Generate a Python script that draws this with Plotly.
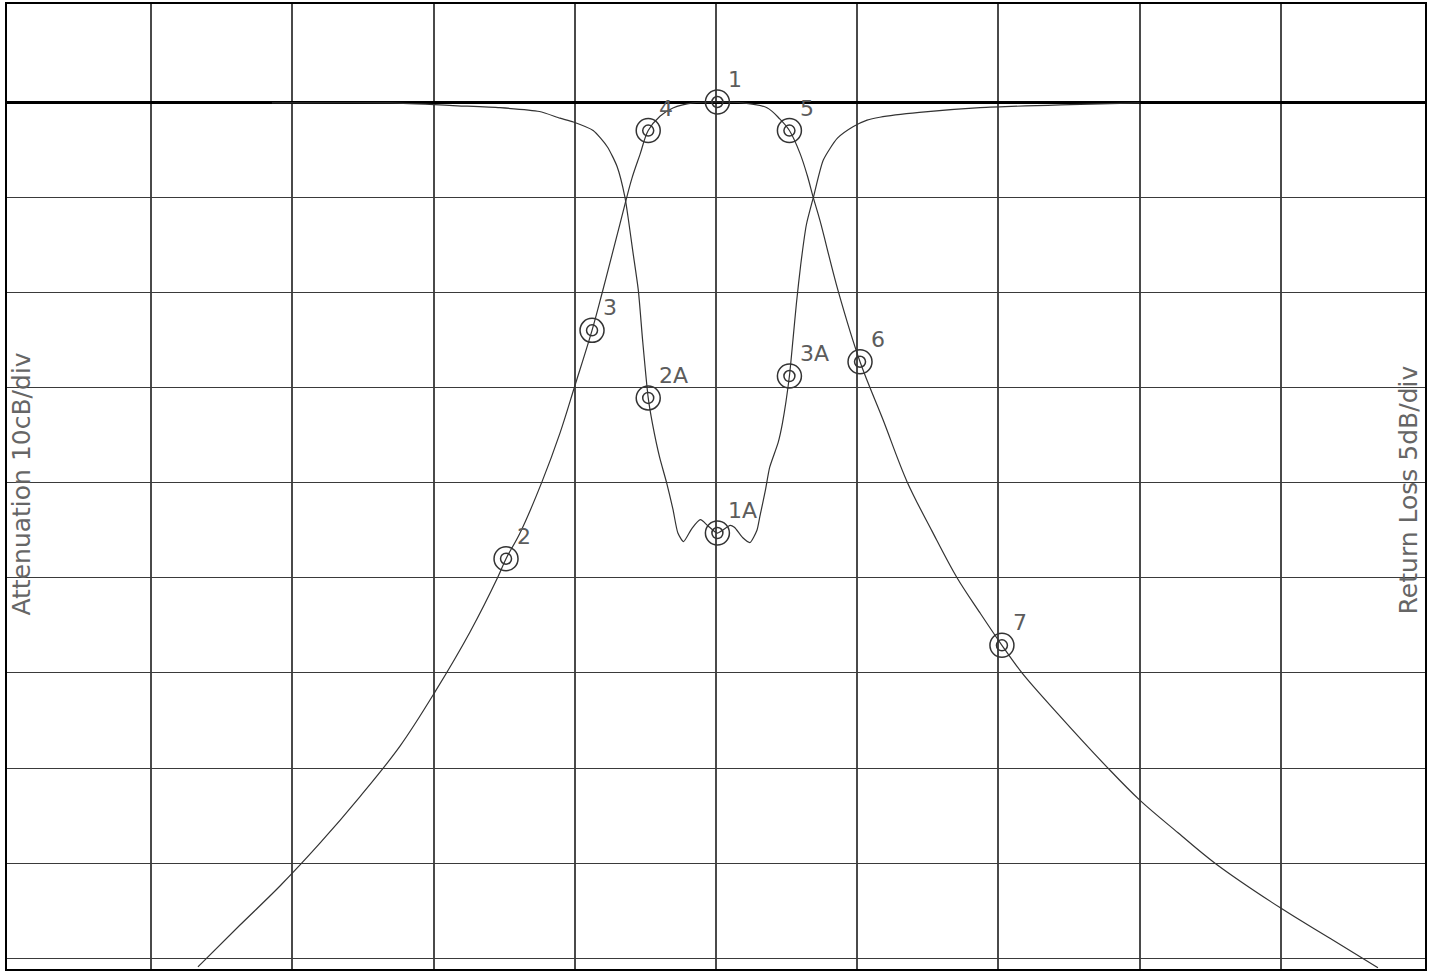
import plotly.graph_objects as go

# x in graticule divisions (0..10), centre of the passband at 5
# attenuation trace: 10 dB/div, return loss trace: 5 dB/div, both referenced to the heavy line

att_x = [1.331, 1.629, 1.912, 2.195, 2.479, 2.762, 3.010, 3.258, 3.456, 3.513, 3.612, 3.768,
         3.895, 4.001, 4.122, 4.193, 4.263, 4.320, 4.363, 4.405, 4.462, 4.52, 4.603, 4.695,
         4.837, 5.01,
         5.191, 5.361, 5.453, 5.52, 5.595, 5.646, 5.688, 5.737, 5.864, 6.02, 6.183, 6.353,
         6.530, 6.707, 6.870, 7.025, 7.167, 7.415, 7.769, 8.003, 8.272, 8.534, 9.008, 9.348, 9.688]
att_db = [-90.9, -86.5, -82.4, -77.9, -73.0, -67.7, -62.0, -55.7, -49.9, -48.0, -45.3, -39.9,
          -34.8, -29.8, -24.0, -20.1, -16.1, -12.8, -10.3, -8.0, -5.5, -3.0, -1.5, -0.63,
          -0.1, 0.0,
          -0.1, -0.6, -1.8, -3.0, -5.4, -7.7, -10.0, -12.5, -19.8, -27.3, -33.4, -39.9,
          -45.1, -50.0, -53.7, -57.1, -60.0, -64.2, -69.9, -73.4, -76.8, -80.0, -84.8, -87.9, -91.0]

rl_x = [1.855, 2.69, 3.17, 3.47, 3.75, 3.895, 3.99, 4.13, 4.23, 4.30, 4.355, 4.38, 4.41, 4.45,
        4.48, 4.52, 4.55, 4.60, 4.65, 4.695, 4.73, 4.77, 4.83, 4.89, 4.94, 5.01, 5.10, 5.13,
        5.19, 5.24, 5.29, 5.31, 5.35, 5.38, 5.44, 5.47, 5.52, 5.545, 5.57, 5.60, 5.64, 5.69,
        5.76, 5.86, 5.97, 6.07, 6.16, 6.44, 6.87, 7.44, 8.00]
rl_db = [-0.05, -0.05, -0.2, -0.3, -0.5, -0.85, -1.05, -1.5, -2.35, -3.4, -5.0, -6.2, -7.8, -9.9,
         -12.5, -15.55, -16.9, -18.65, -20.0, -21.4, -22.65, -23.1, -22.4, -21.95, -22.25, -22.65,
         -22.25, -22.35, -22.9, -23.15, -22.5, -21.8, -20.4, -19.2, -17.9, -16.9, -14.4, -12.5,
         -10.55, -8.55, -6.45, -5.0, -3.05, -1.9, -1.3, -0.95, -0.8, -0.55, -0.3, -0.15, -0.05]

att_mk_x = [5.01, 4.52, 5.52, 4.122, 3.513, 6.02, 7.025]
att_mk_db = [0.0, -3.0, -3.0, -24.0, -48.0, -27.3, -57.1]
att_mk_lbl = ["1", "4", "5", "3", "2", "6", "7"]

rl_mk_x = [4.52, 5.01, 5.52]
rl_mk_db = [-15.55, -22.65, -14.4]
rl_mk_lbl = ["2A", "1A", "3A"]

grid_x = [1, 2, 3, 4, 5, 6, 7, 8, 9]
grid_db = [-90, -80, -70, -60, -50, -40, -30, -20, -10, 0]

INK = "#333333"

fig = go.Figure()

fig.add_trace(go.Scatter(x=att_x, y=att_db, mode="lines", yaxis="y",
                         line=dict(color=INK, width=1.2, shape="spline", smoothing=1.0)))
fig.add_trace(go.Scatter(x=rl_x, y=rl_db, mode="lines", yaxis="y2",
                         line=dict(color=INK, width=1.2, shape="spline", smoothing=0.6)))

# double-ring markers
for mx, my, ax in [(att_mk_x, att_mk_db, "y"), (rl_mk_x, rl_mk_db, "y2")]:
    for size in (24, 11):
        fig.add_trace(go.Scatter(
            x=mx, y=my, mode="markers", yaxis=ax,
            marker=dict(symbol="circle-open", size=size, color=INK, line=dict(width=1.5, color=INK)),
        ))

annotations = []
for mx, my, lbl, ref in [(att_mk_x, att_mk_db, att_mk_lbl, "y"), (rl_mk_x, rl_mk_db, rl_mk_lbl, "y2")]:
    for x, y, t in zip(mx, my, lbl):
        annotations.append(dict(x=x, y=y, xref="x", yref=ref, text=t, showarrow=False,
                                xanchor="left", yanchor="bottom", xshift=9, yshift=8,
                                font=dict(size=22, color="#5c5c5c")))

annotations.append(dict(x=0.0106, y=0.502, xref="paper", yref="paper", text="Attenuation 10cB/div",
                        showarrow=False, textangle=-90, xanchor="center", yanchor="middle",
                        font=dict(size=25, color="#666666")))
annotations.append(dict(x=0.988, y=0.497, xref="paper", yref="paper", text="Return Loss 5dB/div",
                        showarrow=False, textangle=-90, xanchor="center", yanchor="middle",
                        font=dict(size=25, color="#666666")))

fig.update_layout(
    width=1435, height=971,
    margin=dict(l=7, r=10, t=4, b=2),
    plot_bgcolor="white", paper_bgcolor="white",
    showlegend=False,
    font=dict(family="DejaVu Sans"),
    annotations=annotations,
    xaxis=dict(range=[-0.0212, 10.0212], tickmode="array", tickvals=grid_x, showgrid=True,
               gridcolor="#4a4a4a", gridwidth=1.5, zeroline=False,
               showline=True, mirror=True, linecolor="black", linewidth=2,
               showticklabels=False, ticks=""),
    yaxis=dict(range=[-91.12, 10.30], tickmode="array", tickvals=grid_db, showgrid=True,
               gridcolor="#3a3a3a", gridwidth=1,
               zeroline=True, zerolinecolor="black", zerolinewidth=3,
               showline=True, mirror=True, linecolor="black", linewidth=2,
               showticklabels=False, ticks=""),
    yaxis2=dict(range=[-45.56, 5.15], overlaying="y", side="right", showgrid=False,
                zeroline=False, showline=False, showticklabels=False, ticks=""),
)

fig.write_html("out.html", config={"displayModeBar": False},
               post_script="document.body.style.margin='0';document.body.style.overflow='hidden';")
